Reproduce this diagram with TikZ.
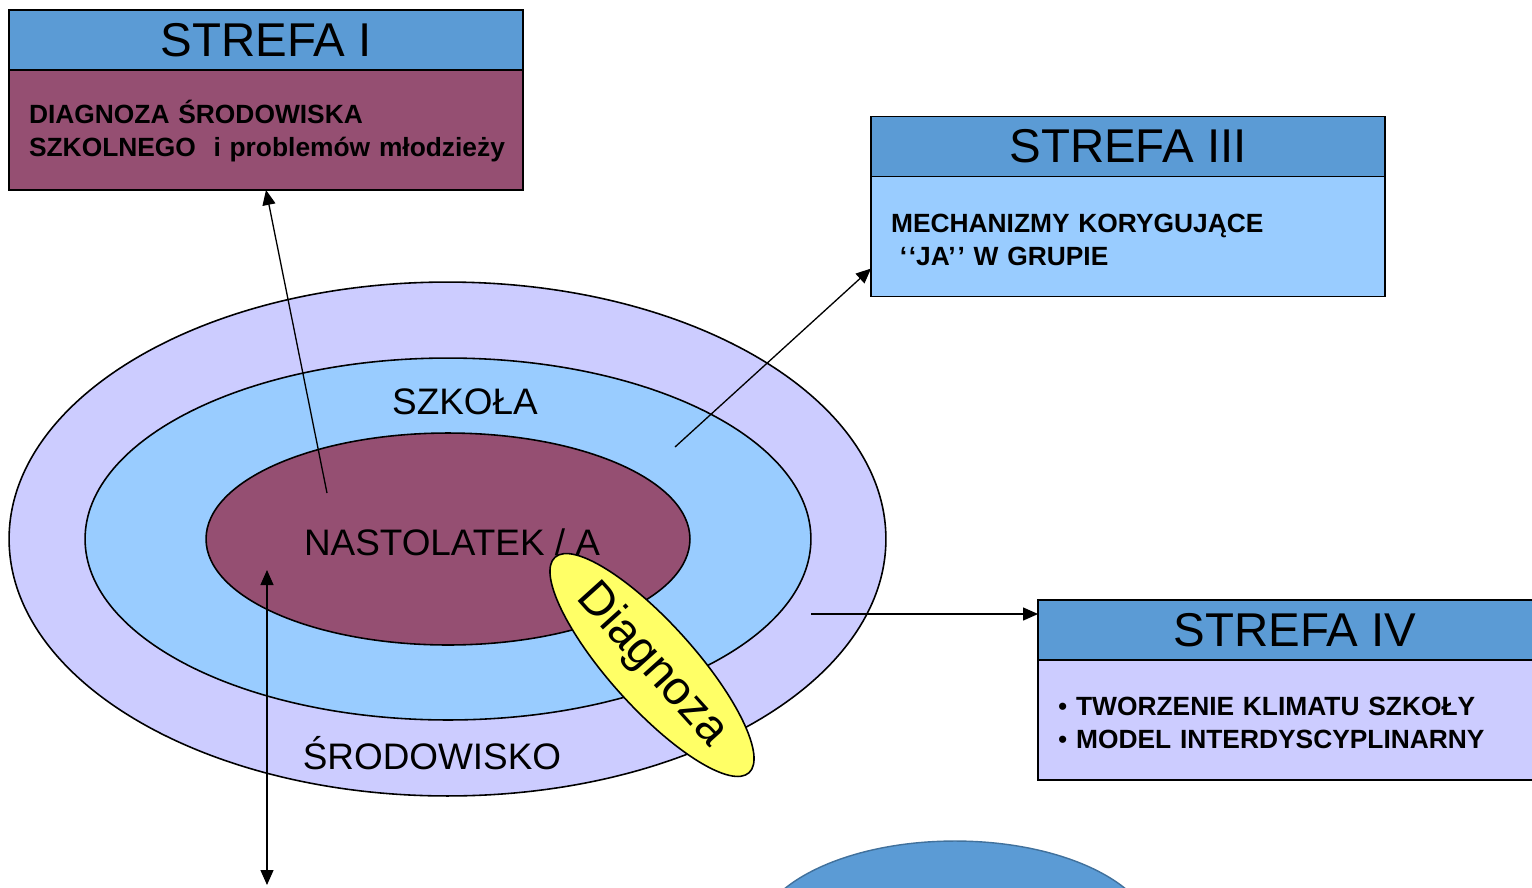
\documentclass[tikz,border=0pt]{standalone}
\usepackage{fontspec}
\setmainfont{Liberation Sans}
\usepackage{tikz}
\usetikzlibrary{shapes.geometric,positioning,arrows.meta}
\definecolor{headblue}{RGB}{91,155,213}
\definecolor{plum}{RGB}{149,79,114}
\definecolor{skyblue}{RGB}{153,204,255}
\definecolor{lavender}{RGB}{204,204,255}
\definecolor{lemon}{RGB}{255,255,102}
\definecolor{edgeblue}{RGB}{65,113,156}
\tikzstyle{zonehead}=[
    rectangle,
    draw=black,
    line width=1.1pt,
    fill=headblue,
    outer sep=0pt,
    minimum width=10.28cm,
    minimum height=1.2cm,
    font=\fontsize{27}{30}\selectfont]
\tikzstyle{zonebody}=[
    rectangle,
    draw=black,
    line width=1.1pt,
    outer sep=0pt,
    inner xsep=0.4cm,
    inner ysep=0pt,
    text width=9.48cm,
    minimum height=2.4cm,
    align=left,
    font=\fontsize{15}{18.7}\selectfont\bfseries]
\tikzstyle{ring}=[
    ellipse,
    draw=black,
    line width=0.9pt,
    inner sep=0pt]
\tikzstyle{ringlabel}=[
    font=\fontsize{21}{25}\selectfont]
\tikzstyle{link}=[
    -{Triangle[length=0.3cm,width=0.26cm]},
    line width=0.75pt]

\begin{document}
\begin{tikzpicture}[x=0.02cm,y=-0.02cm]
    \path[use as bounding box,clip] (0,0) rectangle (1532,887);

    % rings
    \node[ring,fill=lavender,minimum width=17.54cm,minimum height=10.28cm] (env) at (447.5,539) {};
    \node[ring,fill=skyblue,minimum width=14.52cm,minimum height=7.24cm] (school) at (448,539) {};
    \node[ring,fill=plum,minimum width=9.68cm,minimum height=4.24cm] (teen) at (448,539) {};
    \node[ringlabel] (schoollabel) at (465,402) {SZKOŁA};
    \node[ringlabel] (teenlabel) at (452,542) {NASTOLATEK / A};
    \node[ringlabel] (envlabel) at (432,753) {ŚRODOWISKO};
    \node[ring,fill=lemon,rotate=-48,minimum width=5.8cm,minimum height=1.7cm,
      font=\fontsize{27}{30}\selectfont] (diag) at (652,665) {Diagnoza};

    % zones
    \node[zonehead] (head1) at (266,40) {STREFA I};
    \node[zonebody,fill=plum,below=0pt of head1] (zone1)
      {\rule{0pt}{5mm}DIAGNOZA ŚRODOWISKA\\\mbox{SZKOLNEGO \ i problemów młodzieży}};

    \node[zonehead] (head3) at (1128,146.5) {STREFA III};
    \node[zonebody,fill=skyblue,below=0pt of head3] (zone3)
      {\rule{0pt}{5mm}MECHANIZMY KORYGUJĄCE\\\ ‘\kern1pt‘JA’\kern1pt’ W GRUPIE};

    \node[zonehead] (head4) at (1295,630) {STREFA IV};
    \node[zonebody,fill=lavender,below=0pt of head4] (zone4)
      {\rule{0pt}{5mm}{\mdseries •} TWORZENIE KLIMATU SZKOŁY\\{\mdseries •} MODEL INTERDYSCYPLINARNY};

    \node[ellipse,draw=edgeblue,line width=0.8pt,fill=headblue,
      minimum width=8cm,minimum height=4cm] (blob) at (955,941) {};

    % links
    \coordinate (from1) at (327,493);
    \coordinate (from3) at (675,447);
    \coordinate (from4) at (811,614);
    \coordinate (up2) at (267,570);
    \coordinate (down2) at (267,885);
    \draw[link] (from1) -- (zone1.south);
    \draw[link] (from3) -- ([yshift=-0.64cm]zone3.west);
    \draw[link] (from4) -- (from4 -| head4.west);
    \draw[link,{Triangle[length=0.3cm,width=0.26cm]}-{Triangle[length=0.3cm,width=0.26cm]}] (up2) -- (down2);
\end{tikzpicture}
\end{document}
